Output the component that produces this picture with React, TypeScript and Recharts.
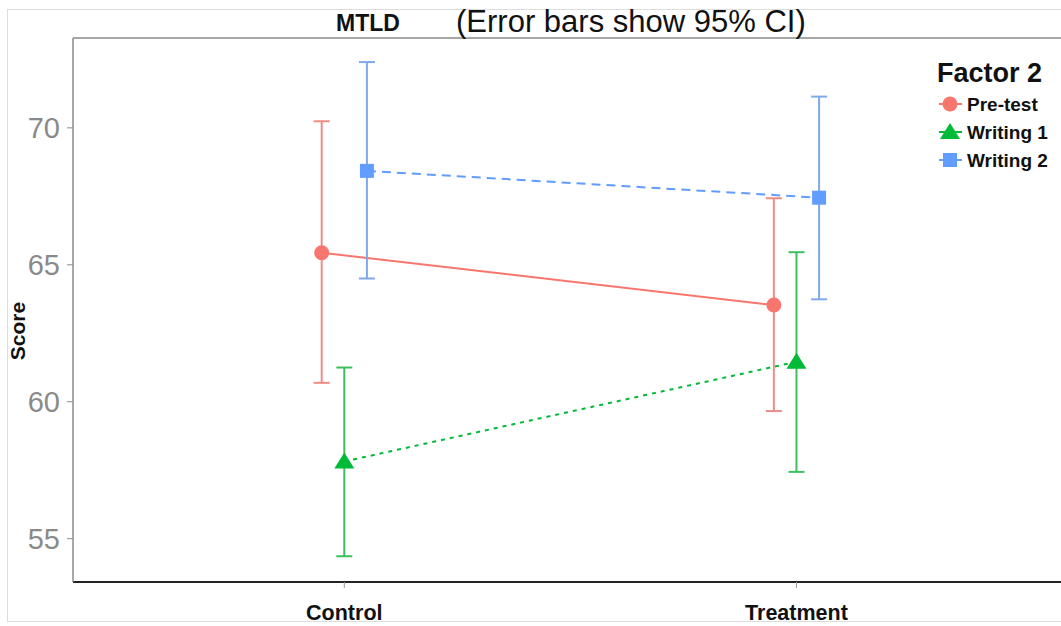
import { ComposedChart, Line, XAxis, YAxis, ErrorBar, ReferenceLine } from 'recharts'

const categories = ['Control', 'Treatment']
const seriesNames = ['Pre-test', 'Writing 1', 'Writing 2']
const seriesColors = ['#F8766D', '#00BA38', '#619CFF']
const barColors = ['#EE8C86', '#3CBF5E', '#7FA9EA']
const seriesDash = ['0', '4 5', '9 6']
const seriesShapes = ['circle', 'triangle', 'square']
const dodge = [-0.05, 0, 0.05]

const preTestMean = [65.44, 63.53]
const preTestLow = [60.69, 59.66]
const preTestHigh = [70.24, 67.43]

const writing1Mean = [57.82, 61.46]
const writing1Low = [54.36, 57.44]
const writing1High = [61.25, 65.46]

const writing2Mean = [68.43, 67.45]
const writing2Low = [64.5, 63.74]
const writing2High = [72.4, 71.14]

const yTicks = [55, 60, 65, 70]
const yDomain = [53.42, 73.28]
const xDomain = [0.4, 2.585]

const means = [preTestMean, writing1Mean, writing2Mean]
const lows = [preTestLow, writing1Low, writing2Low]
const highs = [preTestHigh, writing1High, writing2High]

const seriesData = means.map((m, s) =>
  m.map((v, i) => ({
    x: i + 1 + dodge[s],
    y: v,
    err: [v - lows[s][i], highs[s][i] - v],
  }))
)

function Marker({ shape, cx, cy, color }: { shape: string; cx: number; cy: number; color: string }) {
  if (shape === 'circle') return <circle cx={cx} cy={cy} r={7.5} fill={color} />
  if (shape === 'triangle')
    return <polygon points={`${cx},${cy - 9} ${cx - 10},${cy + 7} ${cx + 10},${cy + 7}`} fill={color} />
  return <rect x={cx - 7} y={cy - 7} width={14} height={14} fill={color} />
}

function makeDot(s: number) {
  return (props: any) => (
    <Marker key={`d-${s}-${props.index}`} shape={seriesShapes[s]} cx={props.cx} cy={props.cy} color={seriesColors[s]} />
  )
}

export default function App() {
  const font = 'Liberation Sans, Arial, Helvetica, sans-serif'
  return (
    <div style={{ position: 'relative', width: 1061, height: 626, fontFamily: font, background: '#fff' }}>
      <style>{'body{margin:0}'}</style>
      <div
        style={{
          position: 'absolute',
          left: 7,
          top: 9,
          width: 1060,
          height: 611,
          border: '1px solid #dddddd',
          borderRight: 'none',
        }}
      />
      <ComposedChart width={1061} height={626} margin={{ top: 38, right: 0, bottom: 0, left: 0 }}>
        <XAxis
          type="number"
          dataKey="x"
          domain={xDomain}
          ticks={[1, 2]}
          allowDataOverflow
          tickFormatter={(v: number) => categories[Math.round(v) - 1]}
          height={44}
          tick={{ fontSize: 21.5, fontWeight: 700, fill: '#111', fontFamily: font }}
          tickSize={6}
          tickMargin={17}
          tickLine={{ stroke: '#999' }}
          axisLine={{ stroke: '#222', strokeWidth: 2 }}
        />
        <YAxis
          type="number"
          domain={yDomain}
          ticks={yTicks}
          allowDataOverflow
          width={73}
          tick={{ fontSize: 29, fill: '#8a8a8a', fontFamily: font }}
          tickSize={6}
          tickMargin={7}
          tickLine={{ stroke: '#8a8a8a' }}
          axisLine={{ stroke: '#8a8a8a', strokeWidth: 1.5 }}
        />
        <ReferenceLine y={yDomain[1]} stroke="#8a8a8a" strokeWidth={1.5} />
        {seriesData.map((d, s) => (
          <Line
            key={seriesNames[s]}
            data={d}
            dataKey="y"
            name={seriesNames[s]}
            stroke={seriesColors[s]}
            strokeWidth={2}
            strokeDasharray={seriesDash[s]}
            dot={makeDot(s)}
            activeDot={false}
            isAnimationActive={false}
          >
            <ErrorBar dataKey="err" direction="y" width={8} stroke={barColors[s]} strokeWidth={2} />
          </Line>
        ))}
      </ComposedChart>
      <svg
        width={1061}
        height={626}
        style={{ position: 'absolute', left: 0, top: 0, pointerEvents: 'none' }}
        fontFamily={font}
      >
        <text x={336} y={31} fontSize={23} fontWeight={700} fill="#111">
          MTLD
        </text>
        <text x={456} y={32} fontSize={31} fill="#111">
          (Error bars show 95% CI)
        </text>
        <text
          x={25}
          y={331}
          fontSize={21}
          fontWeight={700}
          fill="#111"
          textAnchor="middle"
          transform="rotate(-90 25 331)"
        >
          Score
        </text>
        <text x={937} y={82} fontSize={27} fontWeight={700} fill="#111">
          Factor 2
        </text>
        {seriesNames.map((n, s) => {
          const cy = 104 + s * 28
          return (
            <g key={n}>
              <line
                x1={939}
                x2={962}
                y1={cy}
                y2={cy}
                stroke={seriesColors[s]}
                strokeWidth={2}
              />
              <Marker shape={seriesShapes[s]} cx={950} cy={cy} color={seriesColors[s]} />
              <text x={967} y={cy + 7} fontSize={19} fontWeight={700} fill="#111">
                {n}
              </text>
            </g>
          )
        })}
      </svg>
    </div>
  )
}
